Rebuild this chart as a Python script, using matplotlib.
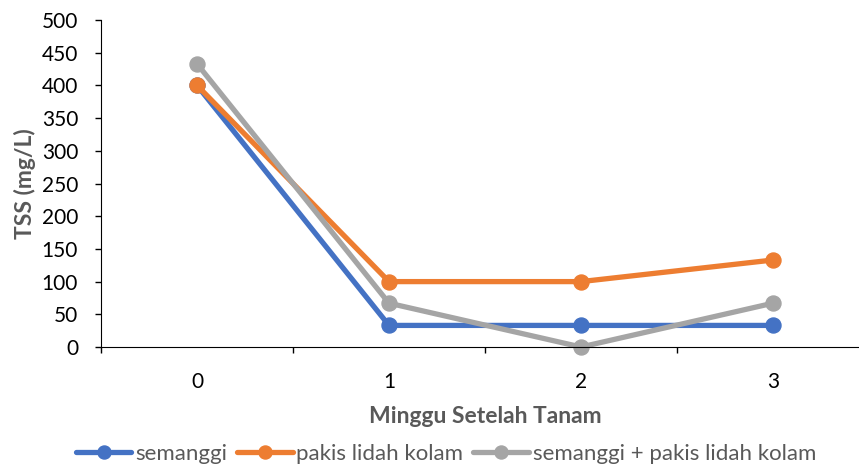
import matplotlib
matplotlib.use("Agg")
import matplotlib.pyplot as plt
from matplotlib.ticker import FixedLocator, NullFormatter

# TSS per minggu setelah tanam
minggu = ["0", "1", "2", "3"]
semanggi = [400, 33, 33, 33]
pakis = [400, 100, 100, 133]
campuran = [433, 67, 0, 67]

plt.rcParams['font.family'] = ['Lato', 'DejaVu Sans']

fig = plt.figure(figsize=(8.59, 4.68), dpi=100)
# sumbu x sengaja melebar sampai lewat tepi kanan
ax = fig.add_axes([101 / 859, 1 - 347 / 468, 768 / 859, 327 / 468])

x = range(len(minggu))
series = [
    (semanggi, '#4472C4', 'semanggi'),
    (pakis, '#ED7D31', 'pakis lidah kolam'),
    (campuran, '#A5A5A5', 'semanggi + pakis lidah kolam'),
]
for vals, col, lab in series:
    ax.plot(x, vals, color=col, linewidth=3.8, marker='o', markersize=10.8,
            label=lab, solid_capstyle='round', clip_on=False)

ax.set_xlim(-0.5, 3.5)
ax.set_ylim(0, 500)
ax.set_yticks(range(0, 501, 50))

# garis tick di batas kategori, label di tengah kategori
ax.xaxis.set_major_locator(FixedLocator([-0.5, 0.5, 1.5, 2.5, 3.5]))
ax.xaxis.set_major_formatter(NullFormatter())
ax.xaxis.set_minor_locator(FixedLocator(list(x)))
ax.set_xticklabels(minggu, minor=True)
ax.tick_params(axis='x', which='major', length=4.5, width=1, color='#000000', direction='out')
ax.tick_params(axis='x', which='minor', length=0, pad=18, labelsize=15)
ax.tick_params(axis='y', length=4.5, width=1, direction='out', labelsize=15, pad=12)

for s in ['top', 'right']:
    ax.spines[s].set_visible(False)
ax.spines['left'].set_color('#000000')
ax.spines['bottom'].set_color('#000000')

ax.set_ylabel('TSS (mg/L)', fontsize=16.5, fontweight='bold', color='#595959', labelpad=4)
ax.set_xlabel('Minggu Setelah Tanam', fontsize=16.5, fontweight='bold', color='#595959', labelpad=10)

leg = fig.legend(loc='center', bbox_to_anchor=(446 / 859, 1 - 454 / 468), ncol=3,
                 frameon=False, fontsize=16, handlelength=2.5, handletextpad=0.17,
                 columnspacing=0.45, markerscale=0.87, labelcolor='#595959')

fig.savefig('out.png', dpi=100)
